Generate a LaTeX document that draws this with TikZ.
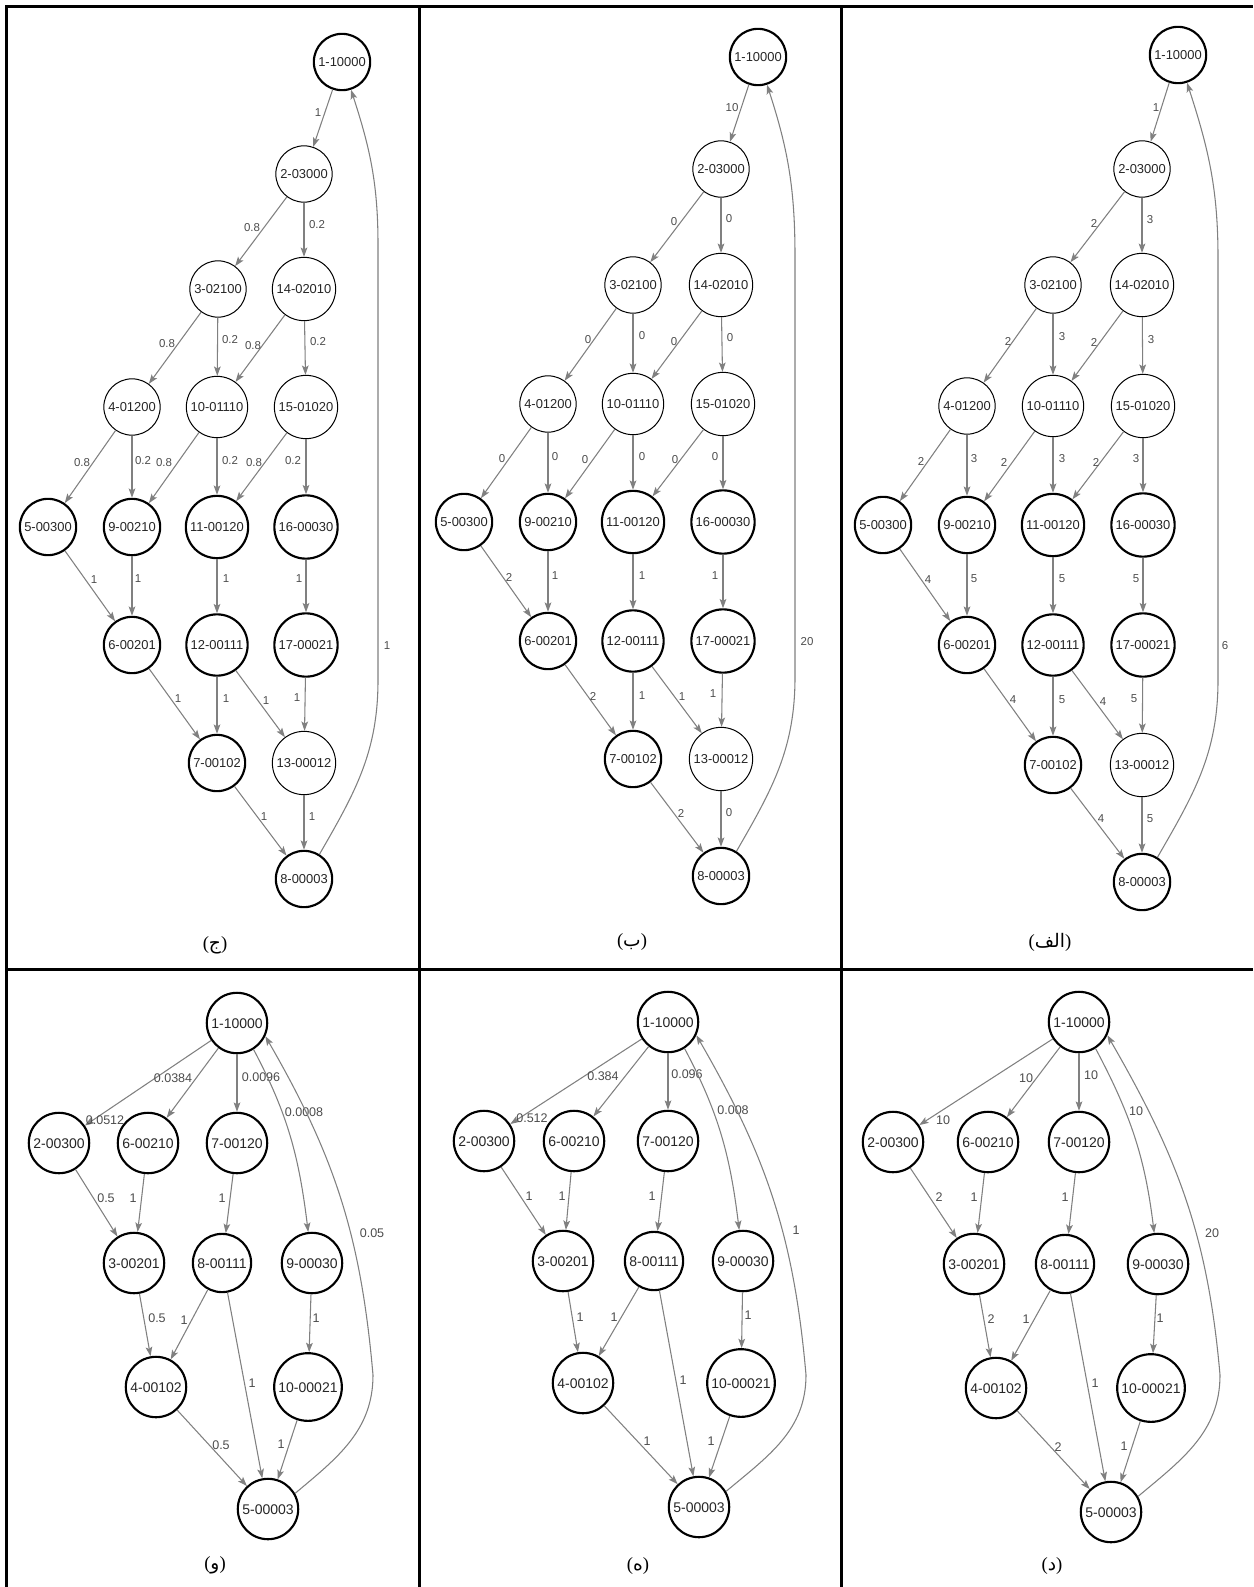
\documentclass[tikz,border=0pt]{standalone}
\usepackage{fontspec}
\setmainfont{Liberation Sans}
\newfontfamily\serif{Liberation Serif}
\newfontfamily\arabicfont[Script=Arabic]{DejaVu Sans}
\TeXXeTstate=1
\usetikzlibrary{arrows.meta}
\definecolor{edgegray}{gray}{0.5}
\definecolor{lblgray}{gray}{0.3}
\tikzset{
  st/.style={circle, draw=black, fill=white, inner sep=2.5pt, text=black!85,
    font=\fontsize{9.7}{10}\selectfont, text height=7pt, text depth=0pt},
  sk/.style={st, line width=1.6pt},
  sn/.style={st, line width=0.75pt},
  sb/.style={circle, draw=black, fill=white, inner sep=2.5pt, text=black!85,
    font=\fontsize{10.5}{11}\selectfont, text height=7.6pt, text depth=0pt, line width=1.6pt},
  edg/.style={draw=edgegray, line width=0.8pt, -{Stealth[length=7pt,width=5pt,inset=1.5pt]}},
  lt/.style={font=\fontsize{8.6}{9}\selectfont, text=lblgray, inner sep=0pt},
  lb/.style={font=\fontsize{9.4}{10}\selectfont, text=lblgray, inner sep=0pt},
  captxt/.style={font=\serif\fontsize{14}{16}\selectfont, inner sep=0pt},
  tbl/.style={line width=2.25pt, draw=black}
}
\newcommand\ed[5][lt]{\draw[edg] (#2) -- (#3); \node[#1] (l#2#3) at (#4) {#5};}
\newcommand\arcap[1]{({\arabicfont\beginR #1\endR})}
\begin{document}
\begin{tikzpicture}[x=0.75pt,y=-0.75pt]
\useasboundingbox (0,0) rectangle (1253,1587);
% table
\draw[tbl] (6.5,1587) -- (6.5,6.5) -- (1253,6.5);
\draw[tbl] (419,6.5) -- (419,1587);
\draw[tbl] (841,6.5) -- (841,1587);
\draw[tbl] (6.5,969) -- (1253,969);

% ================= Panel (ج) =================
\node[sk] (A1) at (342,62) {1-10000};
\node[sn] (A2) at (304,174) {2-03000};
\node[sn] (A3) at (218,289) {3-02100};
\node[sn] (A14) at (304,289) {14-02010};
\node[sn] (A4) at (132,407) {4-01200};
\node[sn] (A10) at (217,407) {10-01110};
\node[sn] (A15) at (306,407) {15-01020};
\node[sk] (A5) at (48,527) {5-00300};
\node[sk] (A9) at (132,527) {9-00210};
\node[sk] (A11) at (217,527) {11-00120};
\node[sk] (A16) at (306,527) {16-00030};
\node[sk] (A6) at (132,645) {6-00201};
\node[sk] (A12) at (217,645) {12-00111};
\node[sk] (A17) at (306,645) {17-00021};
\node[sk] (A7) at (217,763) {7-00102};
\node[sn] (A13) at (304,763) {13-00012};
\node[sk] (A8) at (304,879) {8-00003};
\ed{A1}{A2}{318,113}{1}
\ed{A2}{A3}{252,228}{0.8}
\ed{A2}{A14}{317,225}{0.2}
\ed{A3}{A4}{167,344}{0.8}
\ed{A3}{A10}{230,340}{0.2}
\ed{A14}{A10}{253,346}{0.8}
\ed{A14}{A15}{318,342}{0.2}
\ed{A4}{A5}{82,463}{0.8}
\ed{A4}{A9}{143,461}{0.2}
\ed{A10}{A9}{164,463}{0.8}
\ed{A10}{A11}{230,461}{0.2}
\ed{A15}{A11}{254,463}{0.8}
\ed{A15}{A16}{293,461}{0.2}
\ed{A5}{A6}{94,580}{1}
\ed{A9}{A6}{138,579}{1}
\ed{A11}{A12}{226,579}{1}
\ed{A16}{A17}{299,579}{1}
\ed{A6}{A7}{178,699}{1}
\ed{A12}{A7}{226,699}{1}
\ed{A12}{A13}{266,701}{1}
\ed{A17}{A13}{297,698}{1}
\ed{A7}{A8}{264,817}{1}
\ed{A13}{A8}{312,817}{1}
\draw[edg] (A8.58) to[out=60,in=-90] (378,680) -- (378,245) to[out=90,in=-72] (A1.-72);
\node[lt] (lA8A1) at (387,646) {1};
\node[captxt] (capA) at (215,945) {\arcap{ج}};

% ================= Panel (ب) =================
\node[sk] (B1) at (758,57) {1-10000};
\node[sn] (B2) at (721,169) {2-03000};
\node[sn] (B3) at (633,285) {3-02100};
\node[sn] (B14) at (721,285) {14-02010};
\node[sn] (B4) at (548,404) {4-01200};
\node[sn] (B10) at (633,404) {10-01110};
\node[sn] (B15) at (723,404) {15-01020};
\node[sk] (B5) at (464,522) {5-00300};
\node[sk] (B9) at (548,522) {9-00210};
\node[sk] (B11) at (633,522) {11-00120};
\node[sk] (B16) at (723,522) {16-00030};
\node[sk] (B6) at (548,641) {6-00201};
\node[sk] (B12) at (633,641) {12-00111};
\node[sk] (B17) at (723,641) {17-00021};
\node[sk] (B7) at (633,759) {7-00102};
\node[sn] (B13) at (721,759) {13-00012};
\node[sk] (B8) at (721,876) {8-00003};
\ed{B1}{B2}{732,108}{10}
\ed{B2}{B3}{674,222}{0}
\ed{B2}{B14}{729,219}{0}
\ed{B3}{B4}{588,340}{0}
\ed{B3}{B10}{642,336}{0}
\ed{B14}{B10}{674,342}{0}
\ed{B14}{B15}{730,338}{0}
\ed{B4}{B5}{502,459}{0}
\ed{B4}{B9}{555,457}{0}
\ed{B10}{B9}{585,460}{0}
\ed{B10}{B11}{642,457}{0}
\ed{B15}{B11}{675,460}{0}
\ed{B15}{B16}{715,457}{0}
\ed{B5}{B6}{509,577}{2}
\ed{B9}{B6}{555,576}{1}
\ed{B11}{B12}{642,576}{1}
\ed{B16}{B17}{715,576}{1}
\ed{B6}{B7}{593,696}{2}
\ed{B12}{B7}{642,696}{1}
\ed{B12}{B13}{682,697}{1}
\ed{B17}{B13}{713,694}{1}
\ed{B7}{B8}{681,813}{2}
\ed{B13}{B8}{729,813}{0}
\draw[edg] (B8.58) to[out=60,in=-90] (795,677) -- (795,257) to[out=90,in=-72] (B1.-72);
\node[lt] (lB8B1) at (807,642) {20};
\node[captxt] (capB) at (632,942) {\arcap{ب}};

% ================= Panel (الف) =================
\node[sk] (C1) at (1178,55) {1-10000};
\node[sn] (C2) at (1142,169) {2-03000};
\node[sn] (C3) at (1053,285) {3-02100};
\node[sn] (C14) at (1142,285) {14-02010};
\node[sn] (C4) at (967,406) {4-01200};
\node[sn] (C10) at (1053,406) {10-01110};
\node[sn] (C15) at (1143,406) {15-01020};
\node[sk] (C5) at (883,525) {5-00300};
\node[sk] (C9) at (967,525) {9-00210};
\node[sk] (C11) at (1053,525) {11-00120};
\node[sk] (C16) at (1143,525) {16-00030};
\node[sk] (C6) at (967,645) {6-00201};
\node[sk] (C12) at (1053,645) {12-00111};
\node[sk] (C17) at (1143,645) {17-00021};
\node[sk] (C7) at (1053,765) {7-00102};
\node[sn] (C13) at (1142,765) {13-00012};
\node[sk] (C8) at (1142,882) {8-00003};
\ed{C1}{C2}{1156,108}{1}
\ed{C2}{C3}{1094,223}{2}
\ed{C2}{C14}{1150,220}{3}
\ed{C3}{C4}{1008,341}{2}
\ed{C3}{C10}{1062,337}{3}
\ed{C14}{C10}{1094,342}{2}
\ed{C14}{C15}{1151,340}{3}
\ed{C4}{C5}{921,461}{2}
\ed{C4}{C9}{974,459}{3}
\ed{C10}{C9}{1004,462}{2}
\ed{C10}{C11}{1062,459}{3}
\ed{C15}{C11}{1096,462}{2}
\ed{C15}{C16}{1136,459}{3}
\ed{C5}{C6}{928,580}{4}
\ed{C9}{C6}{974,579}{5}
\ed{C11}{C12}{1062,579}{5}
\ed{C16}{C17}{1136,579}{5}
\ed{C6}{C7}{1013,700}{4}
\ed{C12}{C7}{1062,700}{5}
\ed{C12}{C13}{1103,702}{4}
\ed{C17}{C13}{1134,699}{5}
\ed{C7}{C8}{1101,819}{4}
\ed{C13}{C8}{1150,819}{5}
\draw[edg] (C8.58) to[out=60,in=-90] (1218,680) -- (1218,258) to[out=90,in=-72] (C1.-72);
\node[lt] (lC8C1) at (1225,646) {6};
\node[captxt] (capC) at (1050,942) {\arcap{الف}};

% ================= Panel (و) =================
\node[sb] (D1) at (237,1023) {1-10000};
\node[sb] (D2) at (59,1143) {2-00300};
\node[sb] (D6) at (148,1143) {6-00210};
\node[sb] (D7) at (237,1143) {7-00120};
\node[sb] (D3) at (134,1263) {3-00201};
\node[sb] (D8) at (222,1263) {8-00111};
\node[sb] (D9) at (312,1263) {9-00030};
\node[sb] (D4) at (156,1387) {4-00102};
\node[sb] (D10) at (308,1387) {10-00021};
\node[sb] (D5) at (268,1509) {5-00003};
\ed[lb]{D1}{D2}{105,1120}{0.0512}
\ed[lb]{D1}{D6}{173,1078}{0.0384}
\ed[lb]{D1}{D7}{261,1077}{0.0096}
\draw[edg] (D1.-58) to[out=-62,in=97] (D9.97);
\node[lb] (lD1D9) at (304,1112) {0.0008};
\ed[lb]{D2}{D3}{106,1198}{0.5}
\ed[lb]{D6}{D3}{133,1198}{1}
\ed[lb]{D7}{D8}{222,1198}{1}
\ed[lb]{D3}{D4}{157,1318}{0.5}
\ed[lb]{D8}{D4}{184,1320}{1}
\ed[lb]{D8}{D5}{252,1383}{1}
\ed[lb]{D9}{D10}{316,1318}{1}
\ed[lb]{D4}{D5}{221,1445}{0.5}
\ed[lb]{D10}{D5}{281,1444}{1}
\draw[edg] (D5.30) to[out=40,in=-90] (373,1375) to[out=95,in=-60] (D1.-25);
\node[lb] (lD5D1) at (372,1233) {0.05};
\node[captxt] (capD) at (215,1565) {\arcap{و}};

% ================= Panel (ه) =================
\node[sb] (E1) at (668,1022) {1-10000};
\node[sb] (E2) at (484,1141) {2-00300};
\node[sb] (E6) at (574,1141) {6-00210};
\node[sb] (E7) at (668,1141) {7-00120};
\node[sb] (E3) at (563,1261) {3-00201};
\node[sb] (E8) at (654,1261) {8-00111};
\node[sb] (E9) at (743,1261) {9-00030};
\node[sb] (E4) at (583,1383) {4-00102};
\node[sb] (E10) at (741,1383) {10-00021};
\node[sb] (E5) at (699,1507) {5-00003};
\ed[lb]{E1}{E2}{532,1118}{0.512}
\ed[lb]{E1}{E6}{603,1076}{0.384}
\ed[lb]{E1}{E7}{687,1074}{0.096}
\draw[edg] (E1.-58) to[out=-62,in=97] (E9.97);
\node[lb] (lE1E9) at (733,1110) {0.008};
\ed[lb]{E2}{E3}{529,1196}{1}
\ed[lb]{E6}{E3}{562,1196}{1}
\ed[lb]{E7}{E8}{652,1196}{1}
\ed[lb]{E3}{E4}{580,1317}{1}
\ed[lb]{E8}{E4}{614,1317}{1}
\ed[lb]{E8}{E5}{683,1380}{1}
\ed[lb]{E9}{E10}{748,1315}{1}
\ed[lb]{E4}{E5}{647,1441}{1}
\ed[lb]{E10}{E5}{711,1441}{1}
\draw[edg] (E5.30) to[out=40,in=-90] (806,1375) to[out=95,in=-60] (E1.-25);
\node[lb] (lE5E1) at (796,1230) {1};
\node[captxt] (capE) at (638,1566) {\arcap{ه}};

% ================= Panel (د) =================
\node[sb] (F1) at (1079,1022) {1-10000};
\node[sb] (F2) at (893,1142) {2-00300};
\node[sb] (F6) at (988,1142) {6-00210};
\node[sb] (F7) at (1079,1142) {7-00120};
\node[sb] (F3) at (974,1264) {3-00201};
\node[sb] (F8) at (1065,1264) {8-00111};
\node[sb] (F9) at (1158,1264) {9-00030};
\node[sb] (F4) at (996,1388) {4-00102};
\node[sb] (F10) at (1151,1388) {10-00021};
\node[sb] (F5) at (1111,1512) {5-00003};
\ed[lb]{F1}{F2}{943,1120}{10}
\ed[lb]{F1}{F6}{1026,1078}{10}
\ed[lb]{F1}{F7}{1091,1075}{10}
\draw[edg] (F1.-58) to[out=-62,in=97] (F9.97);
\node[lb] (lF1F9) at (1136,1111) {10};
\ed[lb]{F2}{F3}{939,1197}{2}
\ed[lb]{F6}{F3}{974,1197}{1}
\ed[lb]{F7}{F8}{1065,1197}{1}
\ed[lb]{F3}{F4}{991,1319}{2}
\ed[lb]{F8}{F4}{1026,1319}{1}
\ed[lb]{F8}{F5}{1095,1383}{1}
\ed[lb]{F9}{F10}{1160,1318}{1}
\ed[lb]{F4}{F5}{1058,1447}{2}
\ed[lb]{F10}{F5}{1124,1446}{1}
\draw[edg] (F5.30) to[out=40,in=-90] (1220,1375) to[out=95,in=-60] (F1.-25);
\node[lb] (lF5F1) at (1212,1233) {20};
\node[captxt] (capF) at (1052,1566) {\arcap{د}};
\end{tikzpicture}
\end{document}
